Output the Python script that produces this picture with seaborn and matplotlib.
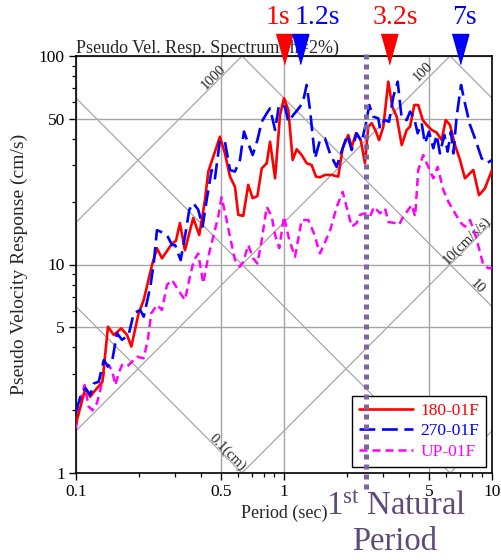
import numpy as np
import pandas as pd
import matplotlib
matplotlib.use('Agg')
import matplotlib.pyplot as plt
from matplotlib.ticker import LogLocator, NullFormatter
import seaborn as sns

# Response spectra: period (s), Sv (cm/s)
period_180 = [0.100, 0.111, 0.117, 0.122, 0.134, 0.1425, 0.152, 0.165, 0.176, 0.1845,
              0.200, 0.2116, 0.232, 0.245, 0.259, 0.2894, 0.3025, 0.316, 0.334, 0.366,
              0.3914, 0.417, 0.4325, 0.457, 0.492, 0.520, 0.550, 0.581, 0.603, 0.637,
              0.673, 0.707, 0.745, 0.7815, 0.826, 0.857, 0.906, 0.957, 1.000, 1.049,
              1.101, 1.151, 1.216, 1.285, 1.358, 1.425, 1.489, 1.574, 1.694, 1.823,
              1.914, 2.037, 2.116, 2.218, 2.339, 2.45, 2.542, 2.641, 2.768, 2.864,
              3.003, 3.173, 3.317, 3.482, 3.68, 3.89, 4.036, 4.23, 4.42, 4.644,
              4.853, 5.13, 5.42, 5.73, 5.99, 6.28, 6.64, 7.02, 7.41, 7.84,
              8.13, 8.66, 9.25, 10.0]
sv_180 = [1.73, 2.55, 2.32, 2.45, 2.74, 5.03, 4.59, 4.94, 4.59, 4.04,
          5.83, 6.76, 9.95, 11.97, 10.7, 12.6, 13.0, 15.8, 11.7, 16.7,
          13.85, 20.4, 27.9, 32.9, 41.0, 34.1, 26.4, 23.6, 17.3, 17.1,
          24.1, 20.8, 21.3, 28.9, 30.6, 38.8, 25.9, 52.1, 62.7, 55.1,
          31.7, 35.7, 33.5, 30.6, 30.0, 26.4, 26.2, 26.9, 26.9, 26.4,
          36.1, 41.8, 36.5, 42.6, 39.5, 30.6, 45.8, 47.6, 43.4, 39.5,
          45.8, 75.3, 57.1, 51.2, 37.4, 44.2, 45.8, 58.2, 58.2, 49.3,
          46.7, 44.2, 42.9, 39.5, 49.3, 46.7, 37.4, 31.7, 25.9, 27.4,
          28.4, 21.5, 23.2, 28.4]

period_270 = [0.100, 0.1049, 0.111, 0.117, 0.122, 0.1286, 0.136, 0.1425, 0.149, 0.1575,
              0.1664, 0.179, 0.1894, 0.2037, 0.2116, 0.2277, 0.2364, 0.245, 0.254, 0.2738,
              0.2894, 0.2995, 0.3185, 0.334, 0.3505, 0.366, 0.387, 0.406, 0.4248, 0.449,
              0.4656, 0.492, 0.520, 0.550, 0.581, 0.614, 0.642, 0.673, 0.707, 0.745,
              0.7815, 0.826, 0.857, 0.906, 0.946, 1.011, 1.049, 1.108, 1.194, 1.239,
              1.285, 1.334, 1.41, 1.489, 1.574, 1.663, 1.79, 1.914, 2.014, 2.116,
              2.236, 2.364, 2.478, 2.57, 2.687, 2.84, 2.894, 3.034, 3.199, 3.354,
              3.52, 3.68, 3.89, 4.036, 4.23, 4.39, 4.59, 4.76, 4.98, 5.22,
              5.42, 5.62, 5.90, 6.12, 6.35, 6.52, 6.76, 7.1, 7.41, 7.84,
              8.28, 8.92, 9.43, 10.0]
sv_270 = [1.97, 2.32, 2.55, 2.37, 2.69, 2.74, 3.48, 3.24, 3.42, 4.68,
          4.35, 4.59, 5.83, 6.05, 5.62, 7.83, 10.1, 14.6, 14.4, 13.85,
          12.4, 12.4, 10.5, 13.6, 18.3, 19.7, 18.3, 15.2, 20.4, 28.4,
          25.9, 39.5, 38.8, 28.4, 27.9, 31.7, 43.4, 38.1, 33.5, 39.5,
          48.4, 53.1, 56.1, 44.2, 58.2, 57.1, 48.4, 52.1, 57.1, 61.5,
          72.6, 55.1, 32.3, 39.5, 40.3, 34.1, 29.4, 36.1, 41.8, 35.4,
          42.6, 38.8, 47.6, 58.2, 51.2, 50.2, 44.9, 49.3, 48.4, 63.8,
          75.3, 50.2, 49.3, 54.1, 50.2, 42.6, 47.6, 38.1, 43.4, 36.1,
          41.8, 34.1, 41.8, 34.8, 43.4, 34.1, 51.2, 72.6, 59.3, 46.7,
          40.3, 32.3, 30.6, 31.7]

period_up = [0.100, 0.1049, 0.110, 0.115, 0.1203, 0.126, 0.1309, 0.136, 0.1425, 0.149,
             0.1545, 0.1604, 0.1664, 0.176, 0.186, 0.1965, 0.2116, 0.222, 0.230, 0.245,
             0.259, 0.2738, 0.2894, 0.310, 0.334, 0.353, 0.369, 0.387, 0.409, 0.4325,
             0.457, 0.483, 0.5008, 0.520, 0.550, 0.581, 0.614, 0.637, 0.673, 0.711,
             0.745, 0.7815, 0.826, 0.873, 0.906, 0.949, 1.0, 1.06, 1.13, 1.216,
             1.309, 1.393, 1.489, 1.592, 1.677, 1.792, 1.914, 2.0, 2.116, 2.236,
             2.317, 2.45, 2.592, 2.709, 2.894, 3.06, 3.173, 3.418, 3.573, 3.746,
             3.96, 4.11, 4.27, 4.42, 4.67, 4.94, 5.22, 5.48, 5.83, 6.17,
             6.64, 7.1, 7.41, 7.84, 8.28, 8.75, 9.08, 9.6, 10.0]
sv_up = [1.64, 2.24, 2.64, 2.08, 2.0, 2.16, 2.50, 3.01, 3.30, 3.12,
         2.64, 3.01, 3.30, 3.24, 3.42, 3.61, 3.55, 4.43, 5.83, 6.40,
         6.05, 7.98, 8.43, 7.55, 6.76, 8.74, 10.5, 11.3, 8.13, 10.9,
         13.6, 17.0, 21.0, 17.9, 13.6, 10.5, 9.76, 10.3, 12.4, 10.7,
         10.1, 13.1, 18.9, 17.0, 13.85, 11.97, 17.0, 13.1, 10.9, 16.35,
         16.35, 14.1, 11.3, 13.1, 14.9, 18.9, 22.3, 18.9, 15.2, 15.8,
         17.3, 17.6, 17.0, 18.9, 17.6, 18.6, 16.0, 15.8, 15.5, 17.0,
         18.3, 19.3, 17.0, 28.4, 33.5, 29.4, 25.9, 29.4, 22.8, 20.0,
         17.6, 15.8, 15.2, 16.35, 14.1, 11.5, 9.95, 9.6, 9.6]

# tripartite grid levels
disp_levels = [0.1, 1, 10, 100]        # cm
accel_levels = [1, 10, 100, 1000]      # cm/s/s

# peak markers
peak_periods = [1.0, 1.2, 3.2, 7.0]
peak_labels = ['1s', '1.2s', '3.2s', '7s']
peak_colors = ['#ff0000', '#0000ff', '#ff0000', '#0000ff']
natural_period = 2.48

sns.set_style('ticks')
plt.rcParams['font.family'] = ['Liberation Serif', 'DejaVu Serif']
plt.rcParams['mathtext.fontset'] = 'custom'
plt.rcParams['mathtext.rm'] = 'Liberation Serif'

fig = plt.figure(figsize=(5.02, 5.6), dpi=100)
ax = fig.add_axes([76 / 502, 1 - 473 / 560, 416 / 502, 417 / 560])

ax.set_xscale('log')
ax.set_yscale('log')
ax.set_xlim(0.1, 10)
ax.set_ylim(1, 100)

# diagonal lines
grey = '#a6a6a6'
tt = np.array([0.1, 10.0])
for d in disp_levels:
    ax.plot(tt, 2 * np.pi * d / tt, color=grey, lw=0.9, zorder=1)
for a in accel_levels:
    ax.plot(tt, a * tt / (2 * np.pi), color=grey, lw=0.9, zorder=1)

lab_kw = dict(fontsize=10.5, ha='center', va='center', rotation_mode='anchor', zorder=2)
ax.text(0.456, 79, '1000', rotation=45, **lab_kw)
ax.text(4.65, 84, '100', rotation=45, **lab_kw)
ax.text(7.6, 13.1, '10(cm/s/s)', rotation=45, **lab_kw)
ax.text(8.47, 7.8, '10', rotation=-45, **lab_kw)
ax.text(0.532, 1.26, '0.1(cm)', rotation=-45, **lab_kw)
ax.text(6.0, 1.15, '1', rotation=-45, **lab_kw)

# spectra
df180 = pd.DataFrame({'T': period_180, 'Sv': sv_180})
df270 = pd.DataFrame({'T': period_270, 'Sv': sv_270})
dfup = pd.DataFrame({'T': period_up, 'Sv': sv_up})
sns.lineplot(data=df180, x='T', y='Sv', ax=ax, color='#ff0000', lw=1.9,
             label='180-01F', zorder=4, sort=False)
sns.lineplot(data=df270, x='T', y='Sv', ax=ax, color='#0000ff', lw=1.9,
             label='270-01F', zorder=4, sort=False, linestyle=(0, (6, 2.5)))
sns.lineplot(data=dfup, x='T', y='Sv', ax=ax, color='#ff00ff', lw=1.8,
             label='UP-01F', zorder=3, sort=False, linestyle=(0, (3.2, 2)))

ax.grid(which='major', color=grey, lw=1.0)
ax.set_axisbelow(True)

ax.set_xticks([0.1, 0.5, 1, 5, 10], ['0.1', '0.5', '1', '5', '10'])
ax.set_yticks([1, 5, 10, 50, 100], ['1', '5', '10', '50', '100'])
ax.xaxis.set_minor_locator(LogLocator(base=10, subs=np.arange(2, 10)))
ax.yaxis.set_minor_locator(LogLocator(base=10, subs=np.arange(2, 10)))
ax.xaxis.set_minor_formatter(NullFormatter())
ax.yaxis.set_minor_formatter(NullFormatter())
ax.tick_params(which='major', direction='out', length=5, width=1, labelsize=12.5,
               colors='black', pad=3)
ax.tick_params(which='minor', direction='out', length=3, width=0.9, colors='black')
for sp in ax.spines.values():
    sp.set_color('black')
    sp.set_linewidth(1.2)

ax.set_xlabel('Period (sec)', fontsize=13)
ax.set_ylabel('Pseudo Velocity Response (cm/s)', fontsize=14)
ax.xaxis.set_label_coords(0.5, -0.075)
ax.yaxis.set_label_coords(-0.115, 0.5)

ax.text(0, 1 + 3 / 417, 'Pseudo Vel. Resp. Spectrum (h=2%)', transform=ax.transAxes,
        ha='left', va='baseline', fontsize=13, zorder=2)

leg = ax.legend(loc='lower right', frameon=True, fancybox=False, edgecolor='black',
                framealpha=1, fontsize=12.5, handlelength=3.1, labelcolor='linecolor',
                borderaxespad=0.35, borderpad=0.4, labelspacing=0.26, handletextpad=0.4)
leg.get_frame().set_linewidth(1.0)
leg.set_zorder(5)

# natural period line
ax.plot([natural_period, natural_period], [0.84, 104.5], color='#8064a2', lw=3.6,
        linestyle=(0, (1, 1)), dash_capstyle='butt', clip_on=False, zorder=8)

# peak triangles and labels
tri = [(-0.557, 1), (0.557, 1), (0, -1)]
offsets = [-4.7, 12.2, 4.7, 3.0]
for t, lab, c, dx in zip(peak_periods, peak_labels, peak_colors, offsets):
    ax.plot([t], [108], marker=tri, ms=21.6, color=c, mec=c, ls='none',
            clip_on=False, zorder=9)
    ax.annotate(lab, (t, 108), xytext=(dx, 22.7), textcoords='offset points',
                ha='center', va='center', fontsize=20, color=c, annotation_clip=False)

fig.text(396 / 502, 1 - 515 / 560, r'$\mathregular{1^{st}}$ Natural', ha='center',
         va='baseline', fontsize=23.5, color='#5f497a')
fig.text(395 / 502, 1 - 550 / 560, 'Period', ha='center', va='baseline',
         fontsize=23.5, color='#5f497a')

fig.savefig('out.png', dpi=100)
